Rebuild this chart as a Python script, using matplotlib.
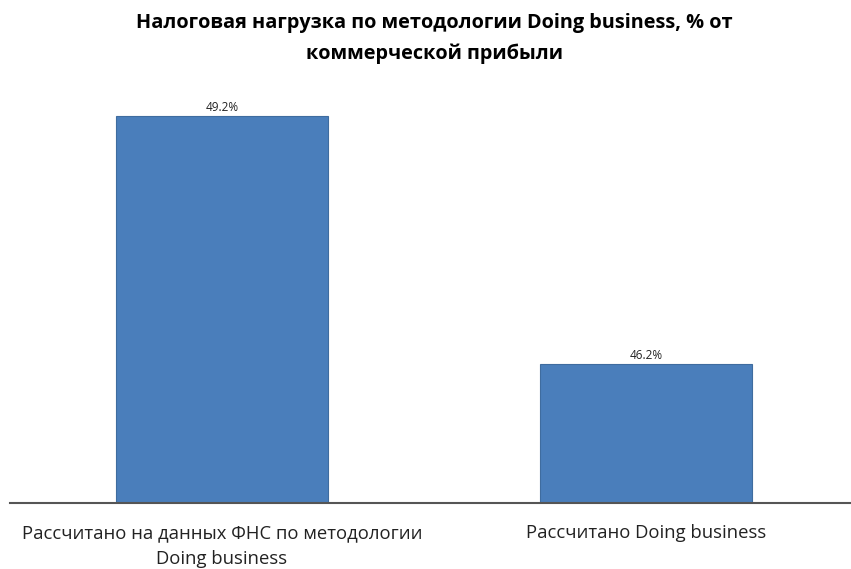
import matplotlib
matplotlib.use('Agg')
import matplotlib.pyplot as plt

categories = ['Рассчитано на данных ФНС по методологии\nDoing business',
              'Рассчитано Doing business']
values = [49.2, 46.2]
labels = ['49.2%', '46.2%']
title = 'Налоговая нагрузка по методологии Doing business, % от\nкоммерческой прибыли'

plt.rcParams['font.family'] = ['Open Sans', 'DejaVu Sans']

fig = plt.figure(figsize=(8.51, 5.69), dpi=100)
ax = fig.add_axes([10 / 851, 1 - 503 / 569, 1 - 10 / 851, 403 / 569])

x = list(range(len(values)))
ax.bar(x, values, width=0.5, color='#4A7EBB', edgecolor='#3F6C9F', linewidth=0.8)

for xi, v, lab in zip(x, values, labels):
    ax.text(xi, v + 0.02, lab, ha='center', va='bottom', fontsize=8.5, color='#222222')

ax.set_xlim(-0.5, 1.483)
ax.set_ylim(44.52, 49.395)

ax.set_xticks(x)
ax.set_xticklabels(categories, fontsize=13.3, linespacing=1.55, color='#222222')
ax.tick_params(axis='x', length=0, pad=15)
ax.set_yticks([])

for s in ['top', 'right', 'left']:
    ax.spines[s].set_visible(False)
ax.spines['bottom'].set_color('#555555')
ax.spines['bottom'].set_linewidth(1.5)

fig.text(434 / 851, 1 - 13 / 569, title, ha='center', va='top', fontsize=14.3,
         fontweight='bold', linespacing=1.7)

fig.savefig('out.png', dpi=100)
